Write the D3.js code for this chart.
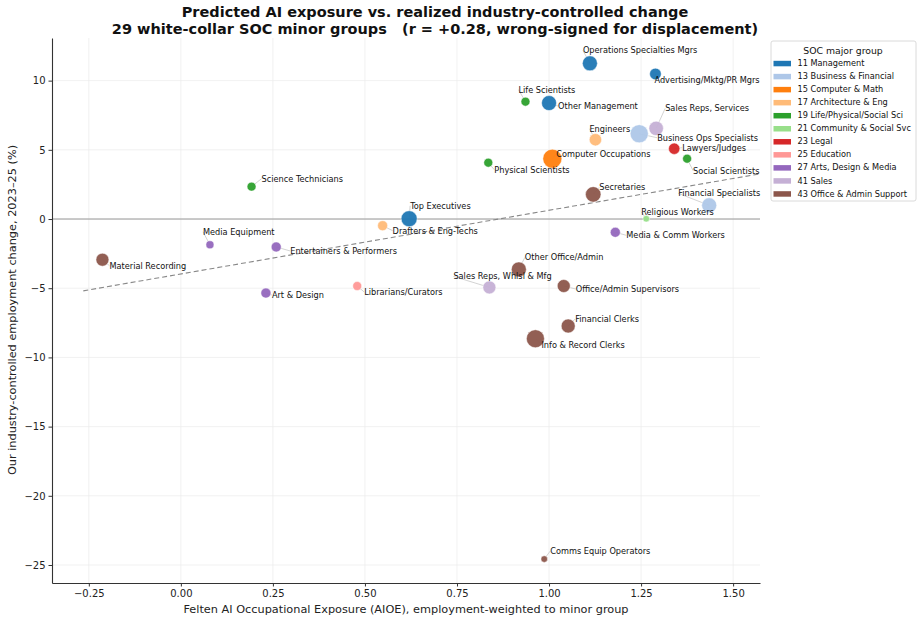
<!DOCTYPE html>
<html>
<head>
<meta charset="utf-8">
<script src="https://cdn.jsdelivr.net/npm/d3@7"></script>
<style>
  body { margin: 0; background: #fff; }
  text { font-family: "DejaVu Sans", sans-serif; }
</style>
</head>
<body>
<div id="main"></div>
<script>
// SOC major groups (legend order) and their tab20 colours
const groups = ["11 Management", "13 Business & Financial", "15 Computer & Math",
  "17 Architecture & Eng", "19 Life/Physical/Social Sci", "21 Community & Social Svc",
  "23 Legal", "25 Education", "27 Arts, Design & Media", "41 Sales", "43 Office & Admin Support"];
const groupColors = ["#1f77b4", "#aec7e8", "#ff7f0e", "#ffbb78", "#2ca02c", "#98df8a",
  "#d62728", "#ff9896", "#9467bd", "#c5b0d5", "#8c564b"];

// minor groups
const occNames = ["Material Recording", "Media Equipment", "Entertainers & Performers", "Art & Design",
  "Science Technicians", "Drafters & Eng-Techs", "Top Executives", "Librarians/Curators",
  "Sales Reps, Whlsl & Mfg", "Other Office/Admin", "Office/Admin Supervisors", "Financial Clerks",
  "Info & Record Clerks", "Comms Equip Operators", "Operations Specialties Mgrs", "Advertising/Mktg/PR Mgrs",
  "Life Scientists", "Other Management", "Sales Reps, Services", "Business Ops Specialists",
  "Engineers", "Computer Occupations", "Lawyers/Judges", "Social Scientists",
  "Physical Scientists", "Secretaries", "Financial Specialists", "Religious Workers",
  "Media & Comm Workers"];
const occGroup = [10, 8, 8, 8, 4, 3, 0, 7, 9, 10, 10, 10, 10, 10, 0, 0, 4, 0, 9, 1, 3, 2, 6, 4, 4, 10, 1, 5, 8];
const aioe = [-0.213, 0.079, 0.259, 0.231, 0.192, 0.548, 0.620, 0.479, 0.838, 0.918, 1.040, 1.052,
  0.963, 0.987, 1.111, 1.289, 0.936, 1.000, 1.291, 1.245, 1.126, 1.009, 1.340, 1.375,
  0.835, 1.120, 1.435, 1.264, 1.180];
const empChange = [-2.94, -1.86, -2.02, -5.35, 2.34, -0.48, 0.02, -4.84, -4.94, -3.64, -4.84, -7.73,
  -8.65, -24.57, 11.25, 10.48, 8.48, 8.38, 6.55, 6.16, 5.73, 4.36, 5.08, 4.36,
  4.07, 1.78, 0.99, 0.02, -0.96];
const employmentK = [2100, 800, 1250, 1250, 1000, 1250, 3200, 1000, 2100, 2800, 2100, 2450,
  4050, 550, 2800, 1700, 1000, 2800, 2600, 4100, 1900, 4500, 1600, 1000,
  1000, 3000, 2800, 550, 1250];

// fitted line
const fitSlope = 4.6, fitIntercept = -3.97, fitRange = [-0.265, 1.57];

const xTicks = [-0.25, 0, 0.25, 0.5, 0.75, 1.0, 1.25, 1.5];
const yTicks = [-25, -20, -15, -10, -5, 0, 5, 10];

// label nudges (px) relative to each marker
const labelNudge = [[7, 6], [-7, -13], [14, 4], [6, 2], [10, -8], [10, 5], [1, -13], [7, 6],
  [-36, -11], [6, -12], [12, 3], [7, -7], [6, 6], [6, -8], [-7, -13], [-1, 6],
  [-7, -12], [9, 3], [9, -20], [18, 4], [-6, -11], [4, -5], [8, -1], [6, 12],
  [6, 7], [6, -7], [-31, -12], [-5, -7], [11, 3]];

const width = 922, height = 624;
const svg = d3.select("#main").append("svg")
  .attr("width", width).attr("height", height);

const x = d3.scaleLinear().domain([-0.35, 1.573]).range([52, 760]);
const y = d3.scaleLinear().domain([-26.3, 13.08]).range([583, 38]);
const r = d3.scaleSqrt().domain([0, 4500]).range([0, 9.5]);
const fmtMinus = s => s.replace("-", "\u2212");

// grid
svg.append("g").selectAll("line").data(xTicks).join("line")
  .attr("x1", d => x(d)).attr("x2", d => x(d)).attr("y1", 38).attr("y2", 583)
  .attr("stroke", "#ebebeb").attr("stroke-width", 0.7);
svg.append("g").selectAll("line").data(yTicks).join("line")
  .attr("x1", 52).attr("x2", 760).attr("y1", d => y(d)).attr("y2", d => y(d))
  .attr("stroke", "#ebebeb").attr("stroke-width", 0.7);

// zero line
svg.append("line").attr("x1", 52).attr("x2", 760).attr("y1", y(0)).attr("y2", y(0))
  .attr("stroke", "#999").attr("stroke-width", 1);

// axes
const xAxis = svg.append("g").attr("transform", "translate(0,583)")
  .call(d3.axisBottom(x).tickValues(xTicks).tickSize(3.5).tickSizeOuter(0).tickPadding(3)
    .tickFormat(d => fmtMinus(d3.format(".2f")(d))));
const yAxis = svg.append("g").attr("transform", "translate(52,0)")
  .call(d3.axisLeft(y).tickValues(yTicks).tickSize(3.5).tickSizeOuter(0).tickPadding(3)
    .tickFormat(d => fmtMinus(String(d))));
[xAxis, yAxis].forEach(a => {
  a.select(".domain").attr("stroke", "#333").attr("stroke-width", 1.1);
  a.selectAll(".tick line").attr("stroke", "#333");
  a.selectAll(".tick text").attr("fill", "#222").style("font-size", "10px")
    .style("font-family", "DejaVu Sans, sans-serif");
});

// fit line
svg.append("line")
  .attr("x1", x(fitRange[0])).attr("y1", y(fitIntercept + fitSlope * fitRange[0]))
  .attr("x2", x(fitRange[1])).attr("y2", y(fitIntercept + fitSlope * fitRange[1]))
  .attr("stroke", "#888").attr("stroke-width", 1.1).attr("stroke-dasharray", "5,3");

const data = d3.range(occNames.length).map(i => ({
  name: occNames[i], g: occGroup[i], x: aioe[i], y: empChange[i],
  emp: employmentK[i], nudge: labelNudge[i]
}));

// leader lines
svg.append("g").selectAll("line").data(data).join("line")
  .attr("x1", d => x(d.x)).attr("y1", d => y(d.y))
  .attr("x2", d => x(d.x) + d.nudge[0]).attr("y2", d => y(d.y) + d.nudge[1])
  .attr("stroke", "#c8c8c8").attr("stroke-width", 0.8);

// markers
svg.append("g").selectAll("circle").data(data).join("circle")
  .attr("cx", d => x(d.x)).attr("cy", d => y(d.y)).attr("r", d => r(d.emp))
  .attr("fill", d => groupColors[d.g]).attr("fill-opacity", 0.95)
  .attr("stroke", "#fff").attr("stroke-width", 0.5);

// labels
svg.append("g").selectAll("text").data(data).join("text")
  .attr("x", d => x(d.x) + d.nudge[0]).attr("y", d => y(d.y) + d.nudge[1])
  .attr("dy", "0.35em").style("font-size", "8.2px").attr("fill", "#111")
  .text(d => d.name);

// titles
svg.append("text").attr("x", 435).attr("y", 16.5).attr("text-anchor", "middle")
  .style("font-size", "14.5px").style("font-weight", "bold").attr("fill", "#111")
  .text("Predicted AI exposure vs. realized industry-controlled change");
svg.append("text").attr("x", 435).attr("y", 33.5).attr("text-anchor", "middle")
  .style("font-size", "14.5px").style("font-weight", "bold").attr("fill", "#111")
  .attr("xml:space", "preserve").style("white-space", "pre")
  .text("29 white-collar SOC minor groups   (r = +0.28, wrong-signed for displacement)");

svg.append("text").attr("x", 406).attr("y", 613).attr("text-anchor", "middle")
  .style("font-size", "11.3px").attr("fill", "#222")
  .text("Felten AI Occupational Exposure (AIOE), employment-weighted to minor group");
svg.append("text").attr("transform", "translate(16,310) rotate(-90)").attr("text-anchor", "middle")
  .style("font-size", "11.3px").attr("fill", "#222")
  .text("Our industry-controlled employment change, 2023\u201325 (%)");

// legend
const lg = svg.append("g").attr("transform", "translate(771,41)");
lg.append("rect").attr("width", 145).attr("height", 160).attr("rx", 2)
  .attr("fill", "#fff").attr("stroke", "#d0d0d0").attr("stroke-width", 0.8);
lg.append("text").attr("x", 72).attr("y", 13).attr("text-anchor", "middle")
  .style("font-size", "9.3px").attr("fill", "#111").text("SOC major group");
const items = lg.selectAll("g.item").data(groups).join("g").attr("class", "item")
  .attr("transform", (d, i) => `translate(0,${22.3 + i * 13.04})`);
items.append("rect").attr("x", 2.5).attr("y", -2.5).attr("width", 17.5).attr("height", 5.5)
  .attr("fill", (d, i) => groupColors[i]);
items.append("text").attr("x", 26.5).attr("y", 0).attr("dy", "0.35em")
  .style("font-size", "8.2px").attr("fill", "#111").text(d => d);
</script>
</body>
</html>
